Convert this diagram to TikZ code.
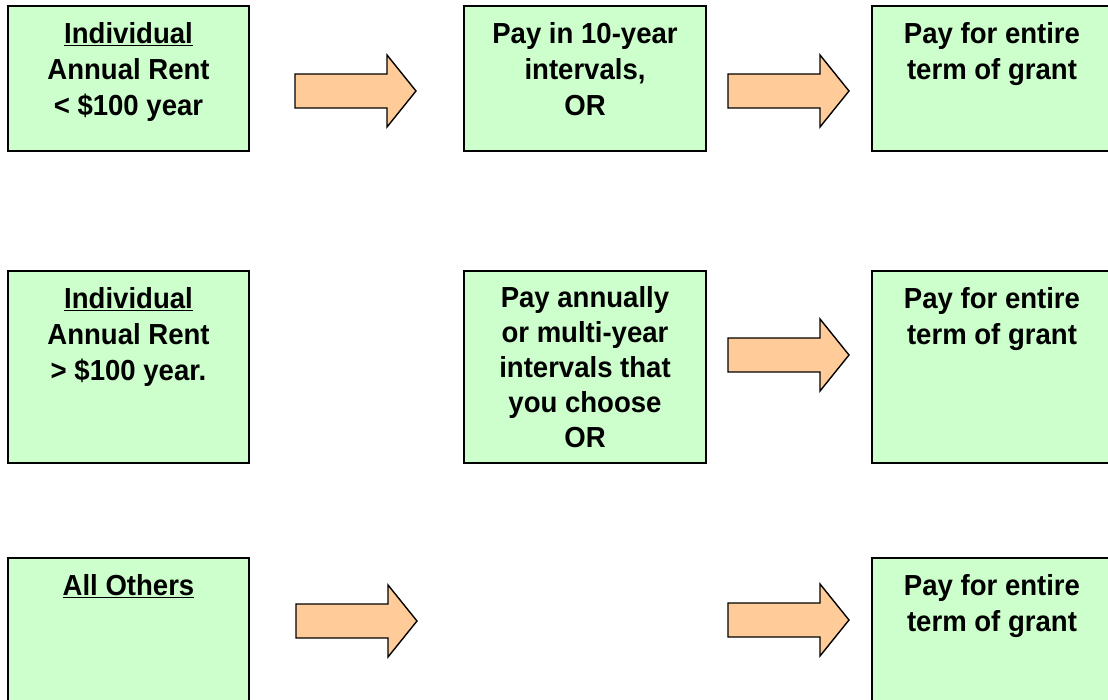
\documentclass[tikz,border=0pt]{standalone}
\usepackage{fontspec}
\setmainfont{Liberation Sans}[FakeStretch=0.95]
\definecolor{boxgreen}{HTML}{CCFFCC}
\definecolor{arroworange}{HTML}{FFCC99}
\tikzset{
  box/.style={draw=black, line width=2.2pt, fill=boxgreen, inner sep=0pt},
  boxtext/.style={anchor=north, inner sep=0pt, align=center,
    font=\bfseries\fontsize{29}{36}\selectfont},
  barrow/.style={draw=black, line width=1.4pt, fill=arroworange, line join=miter},
  blockarrow/.pic={
    \draw[barrow] (0,-17) -- (92,-17) -- (92,-36) -- (121,0) -- (92,36) -- (92,17) -- (0,17) -- cycle;
  }
}
\begin{document}
\begin{tikzpicture}[x=1pt,y=-1pt]
\useasboundingbox (0,0) rectangle (1108,700);
\clip (0,0) rectangle (1108,700);
\fill[white] (0,0) rectangle (1108,700);

% row 1
\node[box, minimum width=241pt, minimum height=145pt] (a1) at (128.5,78.5) {};
\node[box, minimum width=242pt, minimum height=145pt] (b1) at (585,78.5) {};
\node[box, minimum width=240pt, minimum height=145pt] (c1) at (992,78.5) {};
% row 2
\node[box, minimum width=241pt, minimum height=192pt] (a2) at (128.5,367) {};
\node[box, minimum width=242pt, minimum height=192pt] (b2) at (585,367) {};
\node[box, minimum width=240pt, minimum height=192pt] (c2) at (992,367) {};
% row 3
\node[box, minimum width=241pt, minimum height=164pt] (a3) at (128.5,640) {};
\node[box, minimum width=240pt, minimum height=164pt] (c3) at (992,640) {};

% texts
\node[boxtext] (a1t) at ([yshift=-12.8pt]a1.north) {\strut\underline{Individual}\\Annual Rent\\< \$100 year};
\node[boxtext] (b1t) at ([yshift=-12.8pt]b1.north) {\strut Pay in 10-year\\intervals,\\OR};
\node[boxtext] (c1t) at ([yshift=-12.8pt]c1.north) {\strut Pay for entire\\term of grant};
\node[boxtext] (a2t) at ([yshift=-12.8pt]a2.north) {\strut\underline{Individual}\\Annual Rent\\> \$100 year.};
\node[boxtext, font=\bfseries\fontsize{29}{35}\selectfont] (b2t) at ([yshift=-12.5pt]b2.north) {\strut Pay annually\\or multi-year\\intervals that\\you choose\\OR};
\node[boxtext] (c2t) at ([yshift=-12.8pt]c2.north) {\strut Pay for entire\\term of grant};
\node[boxtext] (a3t) at ([yshift=-12.8pt]a3.north) {\strut\underline{All Others}};
\node[boxtext] (c3t) at ([yshift=-12.8pt]c3.north) {\strut Pay for entire\\term of grant};

% block arrows
\pic (r1a) at (295,91) {blockarrow};
\pic (r1b) at (728,91) {blockarrow};
\pic (r2b) at (728,355) {blockarrow};
\pic (r3a) at (296,621) {blockarrow};
\pic (r3b) at (728,620) {blockarrow};
\end{tikzpicture}
\end{document}
